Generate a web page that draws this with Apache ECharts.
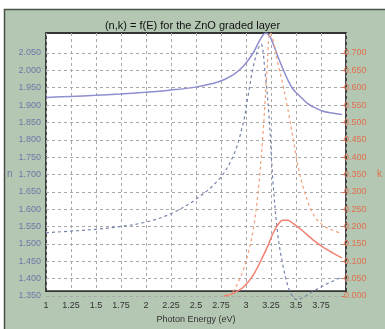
<!DOCTYPE html>
<html>
<head>
<meta charset="utf-8">
<script src="https://cdn.jsdelivr.net/npm/echarts@6/dist/echarts.min.js"></script>
<style>
  html, body { margin: 0; padding: 0; background: #ffffff; }
  #chart { width: 385px; height: 329px; }
</style>
</head>
<body>
<div id="chart"></div>
<script>
// Photon energy axis (eV)
const energyTicks = [1, 1.25, 1.5, 1.75, 2, 2.25, 2.5, 2.75, 3, 3.25, 3.5, 3.75];

// Refractive index n, outer surface of the graded layer (solid)
const nSolidE = [1.0, 1.25, 1.5, 1.75, 2.0, 2.25, 2.5, 2.75, 2.9, 3.0, 3.1, 3.15, 3.2, 3.23, 3.27, 3.3, 3.35, 3.4, 3.45, 3.5, 3.55, 3.6, 3.65, 3.7, 3.8, 3.9, 4.0];
const nSolid  = [1.922, 1.925, 1.928, 1.932, 1.937, 1.943, 1.951, 1.967, 1.988, 2.012, 2.050, 2.078, 2.102, 2.107, 2.097, 2.078, 2.040, 2.005, 1.973, 1.947, 1.932, 1.918, 1.905, 1.896, 1.883, 1.877, 1.873];

// Refractive index n, inner side of the graded layer (dashed)
const nDashE = [1.0, 1.25, 1.5, 1.75, 2.0, 2.25, 2.5, 2.75, 2.9, 3.0, 3.05, 3.1, 3.15, 3.18, 3.22, 3.26, 3.3, 3.35, 3.4, 3.45, 3.5, 3.55, 3.6, 3.7, 3.8, 3.9, 4.0];
const nDash  = [1.532, 1.537, 1.542, 1.550, 1.562, 1.585, 1.625, 1.685, 1.755, 1.850, 1.930, 2.010, 2.062, 2.076, 1.995, 1.870, 1.680, 1.525, 1.440, 1.380, 1.348, 1.339, 1.345, 1.362, 1.378, 1.392, 1.405];

// Extinction coefficient k, outer surface (solid)
const kSolidE = [2.8, 2.85, 2.9, 3.0, 3.1, 3.2, 3.25, 3.3, 3.35, 3.4, 3.45, 3.5, 3.6, 3.7, 3.8, 3.9, 4.0];
const kSolid  = [0.000, 0.003, 0.008, 0.025, 0.060, 0.115, 0.145, 0.180, 0.205, 0.218, 0.218, 0.210, 0.188, 0.163, 0.142, 0.125, 0.110];

// Extinction coefficient k, inner side (dashed)
const kDashE = [2.85, 2.9, 2.95, 3.0, 3.05, 3.1, 3.15, 3.2, 3.24, 3.27, 3.3, 3.35, 3.4, 3.45, 3.5, 3.55, 3.6, 3.7, 3.8, 3.9, 4.0];
const kDash  = [0.000, 0.015, 0.040, 0.075, 0.125, 0.190, 0.300, 0.470, 0.650, 0.758, 0.740, 0.670, 0.610, 0.540, 0.460, 0.380, 0.320, 0.240, 0.205, 0.190, 0.180];

const pairs = (xs, ys) => xs.map((x, i) => [x, ys[i]]);

const chart = echarts.init(document.getElementById('chart'), null, { renderer: 'canvas' });

const PLOT_L = 46, PLOT_R = 39;
const FONT = 'Liberation Sans, Arial, sans-serif';
const gridDash = { color: '#a8a8a8', type: [3, 3], width: 1 };

chart.setOption({
  animation: false,
  backgroundColor: '#ffffff',
  graphic: [
    {
      type: 'rect', z: -10, silent: true,
      shape: { x: 4.5, y: 9.5, width: 400, height: 400 },
      style: { fill: '#b4c7b2', stroke: '#4a4f4a', lineWidth: 1.5 }
    }
  ],
  title: {
    text: '(n,k) = f(E) for the ZnO graded layer',
    left: 'center', top: 15,
    textStyle: { fontFamily: FONT, fontSize: 11, fontWeight: 'normal', color: '#111' }
  },
  grid: [
    // frame of the plotting area, spanning the full axis extent
    { left: PLOT_L, right: PLOT_R, top: 33, bottom: 29, show: true,
      backgroundColor: '#ffffff', borderColor: '#333333', borderWidth: 1.8 },
    // value grid: 1.350..2.050 for n and 0.000..0.700 for k
    { left: PLOT_L, right: PLOT_R, top: 53, bottom: 33 }
  ],
  xAxis: [
    {
      gridIndex: 0, type: 'value', min: 1, max: 4, interval: 0.25,
      name: 'Photon Energy (eV)', nameLocation: 'middle', nameGap: 23,
      nameTextStyle: { fontFamily: FONT, fontSize: 9, color: '#333' },
      axisLine: { show: false }, axisTick: { show: false },
      axisLabel: {
        fontFamily: FONT, fontSize: 9, color: '#333', margin: 10,
        formatter: v => energyTicks.includes(v) ? String(v) : ''
      },
      splitLine: { show: true, lineStyle: gridDash }
    },
    {
      gridIndex: 1, type: 'value', min: 1, max: 4, interval: 0.25, show: false
    }
  ],
  yAxis: [
    { gridIndex: 0, type: 'value', min: 0, max: 1, show: false },
    {
      gridIndex: 1, type: 'value', position: 'left', min: 1.35, max: 2.05, interval: 0.05,
      name: 'n', nameLocation: 'middle', nameGap: 30, nameRotate: 0,
      nameTextStyle: { fontFamily: FONT, fontSize: 10, color: '#6c78a8' },
      axisLine: { show: false }, axisTick: { show: false },
      axisLabel: { fontFamily: FONT, fontSize: 9, color: '#6c78a8', margin: 5,
        formatter: v => v.toFixed(3) },
      splitLine: { show: true, lineStyle: gridDash }
    },
    {
      gridIndex: 1, type: 'value', position: 'right', min: 0, max: 0.70, interval: 0.05,
      name: 'k', nameLocation: 'middle', nameGap: 35, nameRotate: 0,
      nameTextStyle: { fontFamily: FONT, fontSize: 10, color: '#e07050' },
      axisLine: { show: false },
      axisTick: { show: true, length: 3, lineStyle: { color: '#e07050' } },
      axisLabel: { fontFamily: FONT, fontSize: 9, color: '#e07050', margin: 2,
        formatter: v => v.toFixed(3) },
      splitLine: { show: false }
    }
  ],
  series: [
    {
      name: 'n (solid)', type: 'line', xAxisIndex: 1, yAxisIndex: 1,
      data: pairs(nSolidE, nSolid), smooth: 0.35, showSymbol: false, clip: false,
      lineStyle: { color: '#8e8ed0', width: 1.5 }
    },
    {
      name: 'n (dashed)', type: 'line', xAxisIndex: 1, yAxisIndex: 1,
      data: pairs(nDashE, nDash), smooth: 0.35, showSymbol: false, clip: false,
      lineStyle: { color: '#7482ac', width: 1.2, type: [3, 3] }
    },
    {
      name: 'k (solid)', type: 'line', xAxisIndex: 1, yAxisIndex: 2,
      data: pairs(kSolidE, kSolid), smooth: 0.35, showSymbol: false, clip: false,
      lineStyle: { color: '#f08070', width: 1.5 }
    },
    {
      name: 'k (dashed)', type: 'line', xAxisIndex: 1, yAxisIndex: 2,
      data: pairs(kDashE, kDash), smooth: 0.35, showSymbol: false, clip: false,
      lineStyle: { color: '#f2a07a', width: 1.2, type: [3, 3] }
    }
  ]
});
</script>
</body>
</html>
